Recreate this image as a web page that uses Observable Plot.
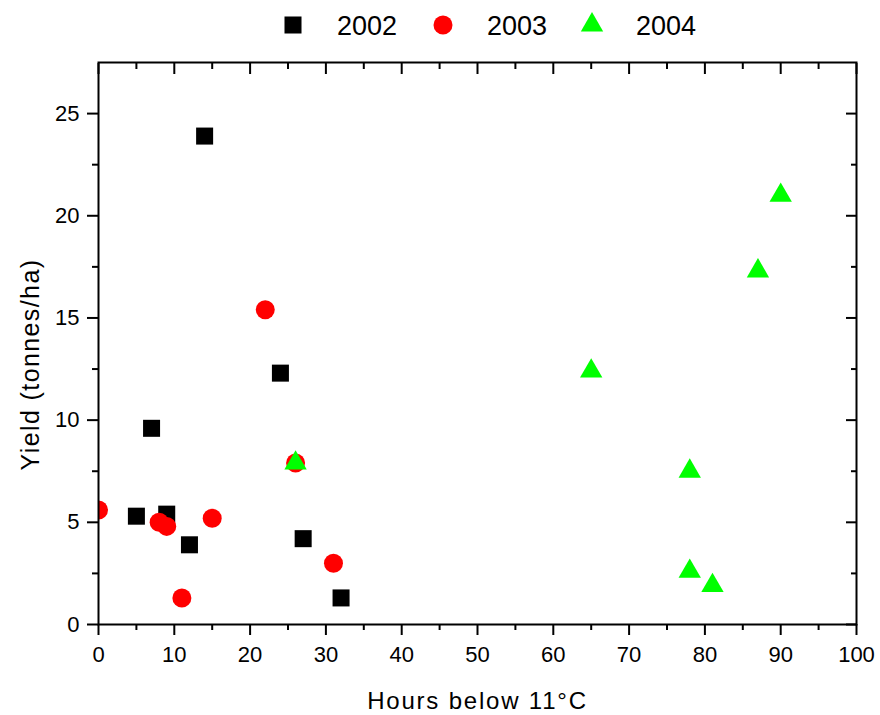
<!DOCTYPE html>
<html>
<head>
<meta charset="utf-8">
<script src="https://cdn.jsdelivr.net/npm/d3@7"></script>
<script src="https://cdn.jsdelivr.net/npm/@observablehq/plot@0.6"></script>
<style>
  body { margin: 0; background: #fff; font-family: Arial, "Liberation Sans", sans-serif; }
  #legend { display: block; }
</style>
</head>
<body>
<svg id="legend" width="880" height="50"></svg>
<div id="chart"></div>
<script>
// ---- data ----
const years = ["2002", "2003", "2004"];
const colors = ["#000000", "#ff0000", "#00ff00"];
const symbols = ["square", "circle", "triangle"];

const hours2002 = [5, 7, 9, 12, 14, 24, 27, 32];
const yield2002 = [5.3, 9.6, 5.4, 3.9, 23.9, 12.3, 4.2, 1.3];

const hours2003 = [0, 8, 9, 11, 15, 22, 26, 31];
const yield2003 = [5.6, 5.0, 4.8, 1.3, 5.2, 15.4, 7.9, 3.0];

const hours2004 = [26, 65, 78, 78, 81, 87, 90];
const yield2004 = [7.9, 12.4, 7.5, 2.6, 1.9, 17.3, 21.0];

const xMajorTicks = [0, 10, 20, 30, 40, 50, 60, 70, 80, 90, 100];
const xMinorTicks = [5, 15, 25, 35, 45, 55, 65, 75, 85, 95];
const yMajorTicks = [0, 5, 10, 15, 20, 25];
const yMinorTicks = [2.5, 7.5, 12.5, 17.5, 22.5];

const xTitle = "Hours below 11°C";
const yTitle = "Yield (tonnes/ha)";

// ---- tables ----
const rows = (xs, ys, year) => xs.map((x, i) => ({hours: x, yield: ys[i], year}));
const d2002 = rows(hours2002, yield2002, years[0]);
const d2003 = rows(hours2003, yield2003, years[1]);
const d2004 = rows(hours2004, yield2004, years[2]);

// ---- legend (above the plot) ----
const legendR = [9.6, 9.5, 8.3];
const legendSvg = d3.select("#legend");
const legendSymX = [293, 443, 592];
years.forEach((yr, i) => {
  const sym = {square: d3.symbolSquare, circle: d3.symbolCircle, triangle: d3.symbolTriangle}[symbols[i]];
  legendSvg.append("path")
    .attr("d", d3.symbol(sym, Math.PI * legendR[i] * legendR[i])())
    .attr("transform", `translate(${legendSymX[i]},25)`)
    .attr("fill", colors[i]);
  legendSvg.append("text")
    .attr("x", legendSymX[i] + 44)
    .attr("y", 26)
    .attr("dy", "0.35em")
    .attr("font-size", 27)
    .attr("font-family", "Arial, 'Liberation Sans', sans-serif")
    .attr("fill", "#000")
    .text(yr);
});

// ---- plot ----
const chart = Plot.plot({
  width: 880,
  height: 665,
  marginTop: 12,
  marginBottom: 91,
  marginLeft: 98,
  marginRight: 24,
  style: {fontFamily: "Arial, 'Liberation Sans', sans-serif", fontSize: "22px", color: "#000", background: "#fff"},
  x: {domain: [0, 100]},
  y: {domain: [0, 27.5]},
  marks: [
    // bottom axis
    Plot.axisX({anchor: "bottom", ticks: xMajorTicks, tickSize: 11, tickPadding: 11, strokeWidth: 2, label: null, fontSize: 22}),
    Plot.axisX({anchor: "bottom", ticks: xMinorTicks, tickSize: 6, strokeWidth: 2, fill: "none", label: null}),
    // top axis (inward ticks)
    Plot.axisX({anchor: "top", ticks: xMajorTicks, tickSize: -11, strokeWidth: 2, fill: "none", label: null}),
    Plot.axisX({anchor: "top", ticks: xMinorTicks, tickSize: -6, strokeWidth: 2, fill: "none", label: null}),
    // left axis
    Plot.axisY({anchor: "left", ticks: yMajorTicks, tickSize: 11, tickPadding: 8, strokeWidth: 2, label: null, fontSize: 22}),
    Plot.axisY({anchor: "left", ticks: yMinorTicks, tickSize: 6, strokeWidth: 2, fill: "none", label: null}),
    // right axis (inward ticks)
    Plot.axisY({anchor: "right", ticks: yMajorTicks, tickSize: -11, strokeWidth: 2, fill: "none", label: null}),
    Plot.axisY({anchor: "right", ticks: yMinorTicks, tickSize: -6, strokeWidth: 2, fill: "none", label: null}),
    // series
    Plot.dot(d2002, {x: "hours", y: "yield", symbol: symbols[0], fill: colors[0], r: 9.6, clip: true}),
    Plot.dot(d2003, {x: "hours", y: "yield", symbol: symbols[1], fill: colors[1], r: 9.5, clip: true}),
    Plot.dot(d2004, {x: "hours", y: "yield", symbol: symbols[2], fill: colors[2], r: 8.3, clip: true}),
    Plot.frame({stroke: "#000", strokeWidth: 2}),
    // axis titles
    Plot.text([xTitle], {frameAnchor: "bottom", dy: 77, textAnchor: "middle", lineAnchor: "middle", fontSize: 24, fill: "#000", text: d => d}),
    Plot.text([yTitle], {frameAnchor: "left", dx: -68, dy: 21, rotate: -90, textAnchor: "middle", lineAnchor: "middle", fontSize: 25, fill: "#000", text: d => d})
  ]
});
// widen the axis titles' letter spacing
d3.select(chart).selectAll("text").each(function () {
  const t = this.textContent;
  if (t === xTitle) d3.select(this).style("letter-spacing", "1.8px");
  if (t === yTitle) d3.select(this).style("letter-spacing", "1.4px");
});
document.getElementById("chart").appendChild(chart);
</script>
</body>
</html>
